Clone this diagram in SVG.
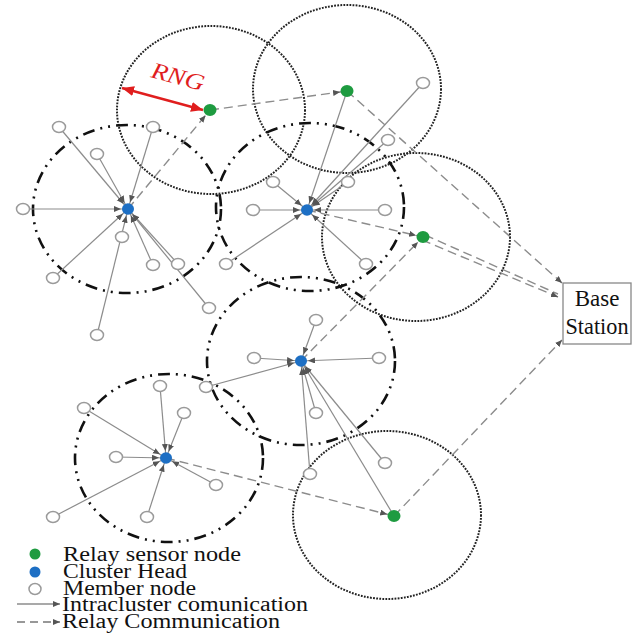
<svg xmlns="http://www.w3.org/2000/svg" width="637" height="634" viewBox="0 0 637 634">
<style>
.bg{fill:#ffffff}
.range{fill:none;stroke:#222;stroke-width:2;stroke-dasharray:1.8 1.3}
.clus{fill:none;stroke:#111;stroke-width:2.6;stroke-dasharray:12 6 2 6 2 6}
.intra{stroke:#8c8c8c;stroke-width:1.2;fill:none}
.relay{stroke:#8c8c8c;stroke-width:1.4;fill:none;stroke-dasharray:9 5}
.mem{fill:#fff;stroke:#9a9a9a;stroke-width:1.5}
.ch{fill:#1d6fc4}
.rs{fill:#1e9b40}
.lbl{font-family:"Liberation Serif","Times New Roman",serif;fill:#111}
</style>
<defs>
<marker id="ah" markerUnits="userSpaceOnUse" markerWidth="20" markerHeight="8" viewBox="0 0 20 8" refX="14" refY="3" orient="auto">
<path d="M0,0 L7,3 L0,6 z" fill="#555"/>
</marker>
<marker id="ahb" markerUnits="userSpaceOnUse" markerWidth="10" markerHeight="8" viewBox="0 0 10 8" refX="7" refY="3" orient="auto">
<path d="M0,0 L7,3 L0,6 z" fill="#555"/>
</marker>
<marker id="rh" markerUnits="userSpaceOnUse" markerWidth="14" markerHeight="10" viewBox="0 0 14 10" refX="12" refY="5" orient="auto-start-reverse">
<path d="M0,0 L12,5 L0,10 z" fill="#e01e1e"/>
</marker>
</defs>
<rect class="bg" x="0" y="0" width="637" height="634"/>

<g id="ranges">
<ellipse class="range" cx="211" cy="110" rx="94" ry="84"/>
<ellipse class="range" cx="347" cy="89" rx="94" ry="84"/>
<ellipse class="range" cx="416" cy="237" rx="94" ry="84"/>
<ellipse class="range" cx="387" cy="515" rx="94" ry="84"/>
</g>
<g id="clusters">
<ellipse class="clus" cx="127" cy="209" rx="94" ry="84"/>
<ellipse class="clus" cx="310" cy="207" rx="94" ry="84"/>
<ellipse class="clus" cx="301" cy="361" rx="94" ry="84"/>
<ellipse class="clus" cx="169" cy="458" rx="94" ry="84"/>
</g>

<g id="connectors">
<g id="intracluster" marker-end="url(#ah)">
<line class="intra" x1="59" y1="127" x2="128" y2="209"/>
<line class="intra" x1="153" y1="127" x2="128" y2="209"/>
<line class="intra" x1="97" y1="154" x2="128" y2="209"/>
<line class="intra" x1="23" y1="209" x2="128" y2="209"/>
<line class="intra" x1="53" y1="278" x2="128" y2="209"/>
<line class="intra" x1="153" y1="265" x2="128" y2="209"/>
<line class="intra" x1="178" y1="264" x2="128" y2="209"/>
<line class="intra" x1="209" y1="308" x2="128" y2="209"/>
<line class="intra" x1="97" y1="335" x2="128" y2="209"/>

<line class="intra" x1="273" y1="182" x2="307" y2="210"/>
<line class="intra" x1="348" y1="182" x2="307" y2="210"/>
<line class="intra" x1="253" y1="210" x2="307" y2="210"/>
<line class="intra" x1="385" y1="210" x2="307" y2="210"/>
<line class="intra" x1="226" y1="264" x2="307" y2="210"/>
<line class="intra" x1="366" y1="264" x2="307" y2="210"/>
<line class="intra" x1="388" y1="140" x2="307" y2="210"/>
<line class="intra" x1="423" y1="83" x2="307" y2="210"/>
<line class="intra" x1="347" y1="91" x2="307" y2="210"/>

<line class="intra" x1="316" y1="320" x2="301" y2="361"/>
<line class="intra" x1="254" y1="358" x2="301" y2="361"/>
<line class="intra" x1="379" y1="358" x2="301" y2="361"/>
<line class="intra" x1="206" y1="387" x2="301" y2="361"/>
<line class="intra" x1="316" y1="413" x2="301" y2="361"/>
<line class="intra" x1="310" y1="474" x2="301" y2="361"/>
<line class="intra" x1="385" y1="463" x2="301" y2="361"/>
<line class="intra" x1="394" y1="516" x2="301" y2="361"/>

<line class="intra" x1="160" y1="386" x2="166" y2="458"/>
<line class="intra" x1="84" y1="408" x2="166" y2="458"/>
<line class="intra" x1="184" y1="413" x2="166" y2="458"/>
<line class="intra" x1="116" y1="457" x2="166" y2="458"/>
<line class="intra" x1="216" y1="485" x2="166" y2="458"/>
<line class="intra" x1="53" y1="517" x2="166" y2="458"/>
<line class="intra" x1="147" y1="517" x2="166" y2="458"/>
</g>
<g id="relaylinks">
<line class="relay" x1="128" y1="209" x2="210" y2="110" marker-end="url(#ah)"/>
<line class="relay" x1="210" y1="110" x2="347" y2="91" marker-end="url(#ah)"/>
<line class="relay" x1="307" y1="210" x2="423" y2="237" marker-end="url(#ah)"/>
<line class="relay" x1="301" y1="361" x2="423" y2="237" marker-end="url(#ah)"/>
<line class="relay" x1="166" y1="458" x2="394" y2="516" marker-end="url(#ah)"/>
<line class="relay" x1="347" y1="91" x2="562" y2="283" marker-end="url(#ahb)"/>
<line class="relay" x1="425" y1="235" x2="558" y2="294"/>
<line class="relay" x1="422" y1="240" x2="558" y2="297" marker-end="url(#ahb)"/>
<line class="relay" x1="394" y1="516" x2="562" y2="340" marker-end="url(#ahb)"/>
</g>
<g id="rng">
<line x1="122" y1="88" x2="203" y2="110" stroke="#e01e1e" stroke-width="2.4" marker-start="url(#rh)" marker-end="url(#rh)"/>
<text class="lbl" transform="translate(176,84) rotate(15)" text-anchor="middle" font-size="23" font-style="italic" style="fill:#e01e1e" textLength="54" lengthAdjust="spacingAndGlyphs">RNG</text>
</g>
</g>

<g id="members">
<g id="m1a"><ellipse class="mem" cx="59" cy="127" rx="6.5" ry="5.5"/></g>
<g id="m1b"><ellipse class="mem" cx="153" cy="127" rx="6.5" ry="5.5"/></g>
<g id="m1c"><ellipse class="mem" cx="97" cy="154" rx="6.5" ry="5.5"/></g>
<g id="m1d"><ellipse class="mem" cx="23" cy="209" rx="6.5" ry="5.5"/></g>
<g id="m1e"><ellipse class="mem" cx="122" cy="237" rx="6.5" ry="5.5"/></g>
<g id="m1f"><ellipse class="mem" cx="53" cy="278" rx="6.5" ry="5.5"/></g>
<g id="m1g"><ellipse class="mem" cx="153" cy="265" rx="6.5" ry="5.5"/></g>
<g id="m1h"><ellipse class="mem" cx="178" cy="264" rx="6.5" ry="5.5"/></g>
<g id="m1i"><ellipse class="mem" cx="209" cy="308" rx="6.5" ry="5.5"/></g>
<g id="m1j"><ellipse class="mem" cx="97" cy="335" rx="6.5" ry="5.5"/></g>
<g id="m2a"><ellipse class="mem" cx="273" cy="182" rx="6.5" ry="5.5"/></g>
<g id="m2b"><ellipse class="mem" cx="348" cy="182" rx="6.5" ry="5.5"/></g>
<g id="m2c"><ellipse class="mem" cx="253" cy="210" rx="6.5" ry="5.5"/></g>
<g id="m2d"><ellipse class="mem" cx="385" cy="210" rx="6.5" ry="5.5"/></g>
<g id="m2e"><ellipse class="mem" cx="226" cy="264" rx="6.5" ry="5.5"/></g>
<g id="m2f"><ellipse class="mem" cx="366" cy="264" rx="6.5" ry="5.5"/></g>
<g id="m2g"><ellipse class="mem" cx="388" cy="140" rx="6.5" ry="5.5"/></g>
<g id="m2h"><ellipse class="mem" cx="423" cy="83" rx="6.5" ry="5.5"/></g>
<g id="m3a"><ellipse class="mem" cx="316" cy="320" rx="6.5" ry="5.5"/></g>
<g id="m3b"><ellipse class="mem" cx="254" cy="358" rx="6.5" ry="5.5"/></g>
<g id="m3c"><ellipse class="mem" cx="379" cy="358" rx="6.5" ry="5.5"/></g>
<g id="m3d"><ellipse class="mem" cx="206" cy="387" rx="6.5" ry="5.5"/></g>
<g id="m3e"><ellipse class="mem" cx="316" cy="413" rx="6.5" ry="5.5"/></g>
<g id="m3f"><ellipse class="mem" cx="310" cy="474" rx="6.5" ry="5.5"/></g>
<g id="m3g"><ellipse class="mem" cx="385" cy="463" rx="6.5" ry="5.5"/></g>
<g id="m4a"><ellipse class="mem" cx="160" cy="386" rx="6.5" ry="5.5"/></g>
<g id="m4b"><ellipse class="mem" cx="84" cy="408" rx="6.5" ry="5.5"/></g>
<g id="m4c"><ellipse class="mem" cx="184" cy="413" rx="6.5" ry="5.5"/></g>
<g id="m4d"><ellipse class="mem" cx="116" cy="457" rx="6.5" ry="5.5"/></g>
<g id="m4e"><ellipse class="mem" cx="216" cy="485" rx="6.5" ry="5.5"/></g>
<g id="m4f"><ellipse class="mem" cx="53" cy="517" rx="6.5" ry="5.5"/></g>
<g id="m4g"><ellipse class="mem" cx="147" cy="517" rx="6.5" ry="5.5"/></g>
</g>

<g id="heads">
<g id="ch1"><ellipse class="ch" cx="128" cy="209" rx="6" ry="5.8"/></g>
<g id="ch2"><ellipse class="ch" cx="307" cy="210" rx="6" ry="5.8"/></g>
<g id="ch3"><ellipse class="ch" cx="301" cy="361" rx="6" ry="5.8"/></g>
<g id="ch4"><ellipse class="ch" cx="166" cy="458" rx="6" ry="5.8"/></g>
</g>
<g id="relays">
<g id="rA"><ellipse class="rs" cx="210" cy="110" rx="6.5" ry="6"/></g>
<g id="rB"><ellipse class="rs" cx="347" cy="91" rx="6.5" ry="6"/></g>
<g id="rC"><ellipse class="rs" cx="423" cy="237" rx="6.5" ry="6"/></g>
<g id="rD"><ellipse class="rs" cx="394" cy="516" rx="6.5" ry="6"/></g>
</g>

<g id="base">
<rect x="563" y="283" width="68" height="61" fill="#fff" stroke="#888" stroke-width="1.3"/>
<text class="lbl" x="597" y="306" text-anchor="middle" font-size="23">Base</text>
<text class="lbl" x="597" y="334" text-anchor="middle" font-size="23" textLength="63" lengthAdjust="spacingAndGlyphs">Station</text>
</g>

<g id="legend">
<circle cx="35" cy="554" r="5.5" class="rs"/>
<circle cx="35" cy="572" r="5.5" class="ch"/>
<ellipse cx="35" cy="589" rx="6" ry="5.5" class="mem"/>
<line class="intra" x1="17" y1="604" x2="60" y2="604" style="stroke:#555" marker-end="url(#ahb)"/>
<line class="relay" x1="17" y1="622" x2="60" y2="622" style="stroke:#777;stroke-dasharray:8 5" marker-end="url(#ahb)"/>
<text class="lbl" x="63" y="561" font-size="20" textLength="178" lengthAdjust="spacingAndGlyphs">Relay sensor node</text>
<text class="lbl" x="63" y="578" font-size="20" textLength="124" lengthAdjust="spacingAndGlyphs">Cluster Head</text>
<text class="lbl" x="63" y="595" font-size="20" textLength="133" lengthAdjust="spacingAndGlyphs">Member node</text>
<text class="lbl" x="62" y="611" font-size="20" textLength="246" lengthAdjust="spacingAndGlyphs">Intracluster comunication</text>
<text class="lbl" x="62" y="628" font-size="20" textLength="218" lengthAdjust="spacingAndGlyphs">Relay Communication</text>
</g>
</svg>
